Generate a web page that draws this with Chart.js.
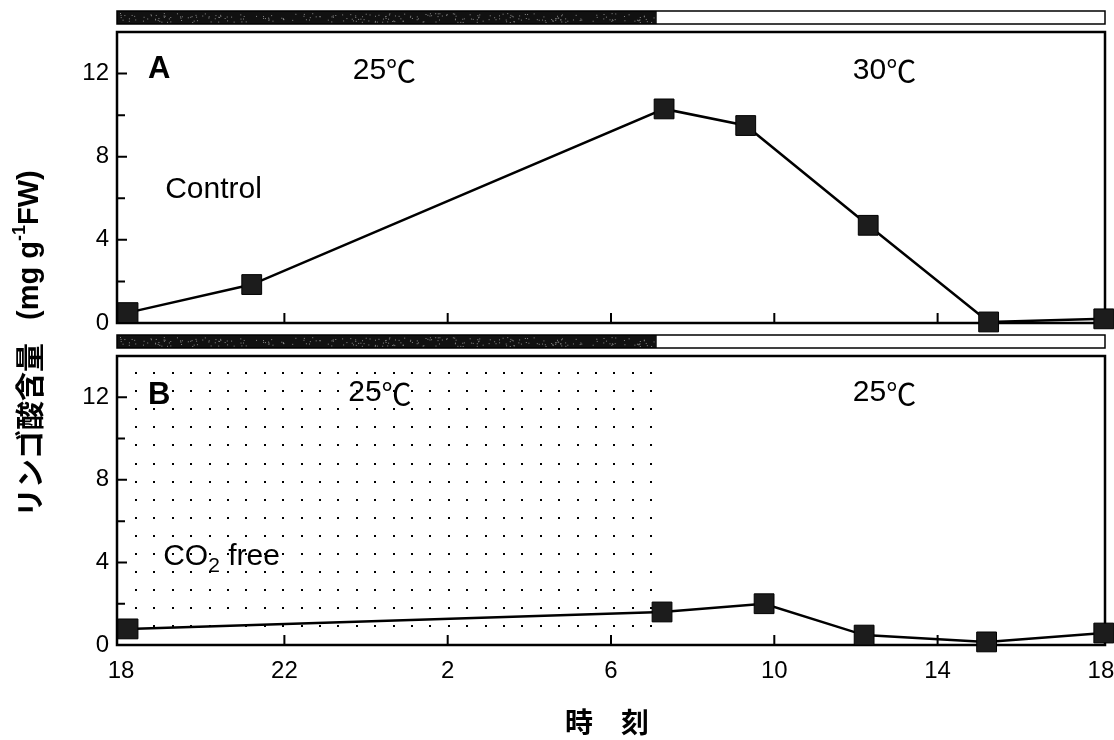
<!DOCTYPE html>
<html>
<head>
<meta charset="utf-8">
<script src="https://cdn.jsdelivr.net/npm/chart.js@4.4.0/dist/chart.umd.min.js"></script>
<style>
    body { margin: 0; background: #fff; }
    #wrap { position: relative; width: 1114px; height: 740px; }
    #wrap canvas { position: absolute; left: 0; top: 0; }
</style>
</head>
<body>
<div id="wrap">
    <canvas id="panel-a" width="1114" height="740"></canvas>
    <canvas id="panel-b" width="1114" height="740"></canvas>
</div>
<script>
// Hours counted from 18:00 of the first day
const clockTicks = [0, 4, 8, 12, 16, 20, 24];
const clockLabels = ["18", "22", "2", "6", "10", "14", "18"];
const malateLabels = [0, 4, 8, 12];
const malateMinor = [2, 6, 10];

// A: control
const controlHours = [0.17, 3.2, 13.3, 15.3, 18.3, 21.25, 24.07];
const controlMalate = [0.5, 1.85, 10.3, 9.5, 4.7, 0.05, 0.2];

// B: CO2 free during the night
const co2FreeHours = [0.17, 13.25, 15.75, 18.2, 21.2, 24.07];
const co2FreeMalate = [0.78, 1.6, 2.0, 0.48, 0.15, 0.58];

// lights on (end of the dark bar)
const lightsOn = 13.12;

const LATIN = '"Liberation Sans", Arial, sans-serif';
const CJK = '"Noto Sans CJK JP", sans-serif';

// draws a row of text pieces (sub/superscripts, mixed fonts)
function drawParts(ctx, parts, x, y, align) {
    let total = 0;
    parts.forEach(p => {
        ctx.font = p.font || ctx.font;
        p.w = p.gap ? p.gap : ctx.measureText(p.t).width;
        total += p.w;
    });
    let cx = align == "center" ? x - total / 2 : x;
    ctx.textAlign = "left";
    ctx.textBaseline = "middle";
    parts.forEach(p => {
        if (!p.gap) {
            ctx.font = p.font;
            ctx.fillText(p.t, cx, y + (p.dy || 0));
        }
        cx += p.w;
    });
}

const panelFrame = {
    id: "panelFrame",
    beforeDatasetsDraw(chart, args, opts) {
        const { ctx, chartArea: a } = chart;
        const x = chart.scales.x, y = chart.scales.y;
        ctx.save();

        // stippled dark period
        if (opts.stipple) {
            const xEnd = x.getPixelForValue(lightsOn);
            ctx.fillStyle = "#000";
            for (let py = a.top + 17; py < a.bottom - 14; py += 18.1) {
                for (let px = a.left + 19; px <= xEnd; px += 18.4) {
                    ctx.fillRect(Math.round(px) - 1, Math.round(py) - 1, 2, 2);
                }
            }
        }

        // light / dark bar above the panel
        const xOn = x.getPixelForValue(lightsOn);
        const barH = 13, barTop = a.top - 8 - barH;
        ctx.fillStyle = "#111";
        ctx.fillRect(a.left, barTop, xOn - a.left, barH);
        // a little grain in the dark part
        ctx.fillStyle = "#8a8a8a";
        for (let i = 0; i < 260; i++) {
            const fx = Math.abs(Math.sin(i * 12.9898) * 43758.5453) % 1;
            const fy = Math.abs(Math.sin(i * 78.233) * 12345.6789) % 1;
            ctx.fillRect(a.left + 3 + fx * (xOn - a.left - 6), barTop + 2 + fy * (barH - 4), 1, 1);
        }
        ctx.strokeStyle = "#000";
        ctx.lineWidth = 1.5;
        ctx.strokeRect(a.left, barTop, a.right - a.left, barH);

        // frame
        ctx.lineWidth = 2.5;
        ctx.strokeRect(a.left, a.top, a.right - a.left, a.bottom - a.top);

        // inward ticks
        ctx.lineWidth = 2;
        ctx.beginPath();
        malateLabels.concat(malateMinor).forEach(v => {
            if (v == 0) return;
            const py = y.getPixelForValue(v);
            const len = malateLabels.includes(v) ? 10 : 8;
            ctx.moveTo(a.left, py);
            ctx.lineTo(a.left + len, py);
        });
        clockTicks.slice(1, -1).forEach(h => {
            const px = x.getPixelForValue(h);
            ctx.moveTo(px, a.bottom);
            ctx.lineTo(px, a.bottom - 10);
        });
        ctx.stroke();
        ctx.restore();
    },
    afterDraw(chart, args, opts) {
        const { ctx } = chart;
        const x = chart.scales.x, y = chart.scales.y;
        ctx.save();
        ctx.fillStyle = "#000";
        (opts.notes || []).forEach(n => {
            drawParts(ctx, n.parts, x.getPixelForValue(n.h), y.getPixelForValue(n.v), n.align);
        });

        if (opts.titles) {
            // x title
            drawParts(ctx, [{ t: "時　刻", font: `bold 28px ${CJK}` }], 607, 722, "center");
            // y title, rotated, reading upwards
            ctx.translate(30, 517);
            ctx.rotate(-Math.PI / 2);
            drawParts(ctx, [
                { t: "リンゴ酸含量", font: `bold 29px ${CJK}` },
                { gap: 23 },
                { t: "(mg g", font: `bold 29px ${LATIN}` },
                { t: "-1", font: `bold 18px ${LATIN}`, dy: -10 },
                { t: "FW)", font: `bold 29px ${LATIN}` }
            ], 0, 0, "left");
        }
        ctx.restore();
    }
};

function degree(t) {
    return [{ t: t, font: `30px ${LATIN}` }, { t: "℃", font: `30px ${CJK}` }];
}

function createPanel(canvasId, hours, malate, padding, showClock, frameOpts) {
    const points = hours.map((h, i) => ({ x: h, y: malate[i] }));
    return new Chart(document.getElementById(canvasId), {
        type: "line",
        plugins: [panelFrame],
        data: {
            datasets: [{
                data: points,
                borderColor: "#000",
                borderWidth: 2.5,
                tension: 0,
                pointStyle: "rect",
                pointRadius: 14,
                pointBackgroundColor: "#1c1c1c",
                pointBorderColor: "#000",
                pointBorderWidth: 1,
                clip: false
            }]
        },
        options: {
            responsive: false,
            animation: false,
            events: [],
            // markers may sit on the frame, so no extra room for them
            layout: { padding: padding, autoPadding: false },
            plugins: {
                legend: { display: false },
                tooltip: { enabled: false },
                panelFrame: frameOpts
            },
            scales: {
                x: {
                    type: "linear",
                    min: -0.1,
                    max: 24.1,
                    display: showClock,
                    grid: { display: false },
                    border: { display: false },
                    afterBuildTicks: scale => {
                        scale.ticks = clockTicks.map(v => ({ value: v }));
                    },
                    afterFit: scale => {
                        // fixed axis height, no room kept for the end labels
                        scale.height = showClock ? 60 : 0;
                        scale.paddingLeft = 0;
                        scale.paddingRight = 0;
                    },
                    ticks: {
                        autoSkip: false,
                        maxRotation: 0,
                        padding: 4,
                        color: "#000",
                        font: { family: LATIN, size: 24 },
                        callback: (v, i) => clockLabels[i]
                    }
                },
                y: {
                    min: 0,
                    max: 14,
                    grid: { display: false },
                    border: { display: false },
                    afterBuildTicks: scale => {
                        scale.ticks = malateLabels.map(v => ({ value: v }));
                    },
                    afterFit: scale => {
                        scale.width = 117;
                        scale.paddingTop = 0;
                        scale.paddingBottom = 0;
                    },
                    ticks: {
                        autoSkip: false,
                        padding: 0,
                        color: "#000",
                        font: { family: LATIN, size: 24 },
                        callback: v => String(v)
                    }
                }
            }
        }
    });
}

createPanel("panel-a", controlHours, controlMalate,
    { top: 32, right: 9, bottom: 740 - 323, left: 0 }, false, {
        notes: [
            { h: 0.66, v: 12.2, parts: [{ t: "A", font: `bold 31px ${LATIN}` }] },
            { h: 6.45, v: 12.15, align: "center", parts: degree("25") },
            { h: 18.7, v: 12.15, align: "center", parts: degree("30") },
            { h: 1.08, v: 6.4, parts: [{ t: "Control", font: `30px ${LATIN}` }] }
        ]
    });

createPanel("panel-b", co2FreeHours, co2FreeMalate,
    { top: 356, right: 9, bottom: 740 - 645 - 60, left: 0 }, true, {
        stipple: true,
        titles: true,
        notes: [
            { h: 0.66, v: 12.1, parts: [{ t: "B", font: `bold 31px ${LATIN}` }] },
            { h: 6.34, v: 12.2, align: "center", parts: degree("25") },
            { h: 18.7, v: 12.2, align: "center", parts: degree("25") },
            { h: 1.03, v: 4.26, parts: [
                { t: "CO", font: `30px ${LATIN}` },
                { t: "2", font: `21px ${LATIN}`, dy: 9 },
                { t: " free", font: `30px ${LATIN}` }
            ] }
        ]
    });
</script>
</body>
</html>
